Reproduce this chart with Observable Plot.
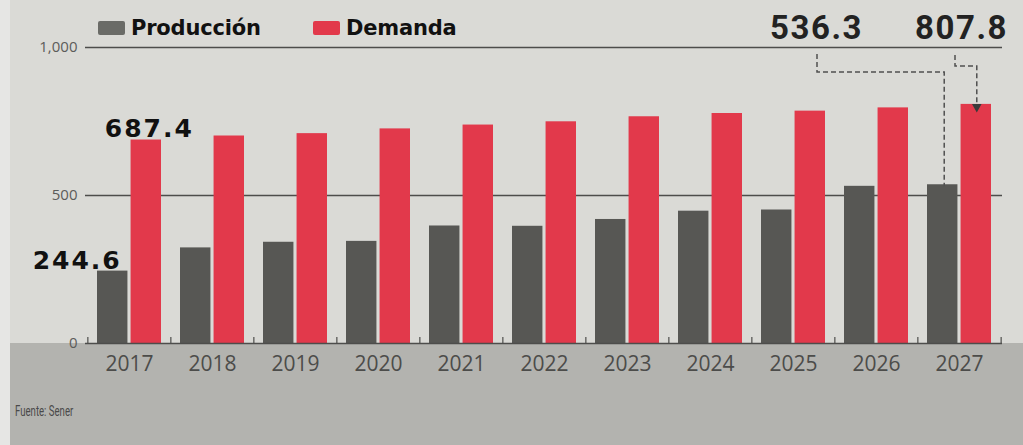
<!DOCTYPE html>
<html>
<head>
<meta charset="utf-8">
<script src="https://cdn.jsdelivr.net/npm/d3@7"></script>
<script src="https://cdn.jsdelivr.net/npm/@observablehq/plot@0.6"></script>
<style>
  html, body { margin: 0; padding: 0; }
  body { width: 1023px; height: 445px; position: relative; overflow: hidden; background: #dadad6; font-family: "Open Sans", sans-serif; }
  #strip { position: absolute; left: 0; top: 0; width: 10px; height: 445px; background: #e6e6e4; }
  #band { position: absolute; left: 10px; top: 343px; width: 1013px; height: 102px; background: #b3b3af; }
  #chart { position: absolute; left: 0; top: 0; }
  #chart svg { overflow: visible; }
  .legend { position: absolute; top: 16px; font-family: "DejaVu Sans", sans-serif; font-weight: 700; font-size: 21px; color: #111; display: flex; align-items: center; letter-spacing: -0.2px; }
  .legend .sw { width: 27px; height: 14px; margin-right: 6px; border-radius: 2px; }
  #fuente { position: absolute; left: 15px; top: 402px; font-family: Roboto, sans-serif; font-size: 15px; color: #4a4a4a; transform: scaleX(0.64); transform-origin: left center; white-space: nowrap; }
  svg [aria-label^="x-axis"] text { font-size: 21px; fill: #4c4c4a; font-family: "Open Sans", sans-serif; }
  svg [aria-label^="y-axis"] text { font-size: 15px; fill: #5c5c5a; font-family: "Open Sans", sans-serif; }
</style>
</head>
<body>
<div id="strip"></div>
<div id="band"></div>
<div id="chart"></div>
<div class="legend" style="left:98px"><span class="sw" style="background:#6a6b67"></span>Producción</div>
<div class="legend" style="left:313px"><span class="sw" style="background:#e2394b"></span>Demanda</div>
<div id="fuente">Fuente: Sener</div>
<script>
// ---- data ----
const years = ["2017","2018","2019","2020","2021","2022","2023","2024","2025","2026","2027"];
const produccion = [244.6, 323, 342, 345, 397, 396, 419, 447, 451, 531, 536.3];
const demanda = [687.4, 701, 709, 725, 738, 749, 766, 777, 785, 796, 807.8];
const series = ["Producción", "Demanda"];
const yTicks = [0, 500, 1000];

const prodRows = years.map((year, i) => ({year, series: series[0], value: produccion[i]}));
const demRows = years.map((year, i) => ({year, series: series[1], value: demanda[i]}));

// ---- layout / styles ----
const W = 1023, H = 445;
const mL = 85, mR = 21, mT = 47, mB = 102;
const padIn = 0.23, padOut = 0.12;
const pre = d3.scaleBand(years, [mL, W - mR]).paddingInner(padIn).paddingOuter(padOut);
const bw = pre.bandwidth(), step = pre.step();
const gap = 1.5;
const half = bw / 2 + gap;
const gray = "#575754", red = "#e2394b", ink = "#4d4d4b";
const smallLabel = {fontSize: 25, fontWeight: 700, fill: "#111", fontFamily: "DejaVu Sans, sans-serif"};
const bigLabel = {fontSize: 33, fontWeight: 700, fill: "#222", fontFamily: "Roboto, sans-serif"};

const plot = Plot.plot({
  width: W, height: H,
  marginLeft: mL, marginRight: mR, marginTop: mT, marginBottom: mB,
  style: {background: "transparent", fontFamily: "Open Sans, sans-serif", overflow: "visible"},
  x: {domain: years, paddingInner: padIn, paddingOuter: padOut, label: null, tickSize: 0, tickPadding: 13},
  y: {domain: [0, 1000], ticks: yTicks, tickFormat: d3.format(","), label: null, tickSize: 0, tickPadding: 8},
  marks: [
    Plot.ruleY(yTicks.filter(d => d > 0), {stroke: ink, strokeWidth: 1.6}),
    Plot.barY(prodRows, {x: "year", y: "value", fill: gray, insetRight: half}),
    Plot.barY(demRows, {x: "year", y: "value", fill: red, insetLeft: half}),
    Plot.ruleY([0], {stroke: ink, strokeWidth: 1.6}),
    Plot.ruleX(years, {x: d => d, dx: -step / 2, insetTop: 290, stroke: ink, strokeWidth: 1.2}),
    Plot.ruleX(years.slice(-1), {x: d => d, dx: step / 2, insetTop: 290, stroke: ink, strokeWidth: 1.2}),
    Plot.text(demRows.filter(d => d.year === years[0]), {
      x: "year", y: "value", text: d => d.value.toFixed(1), dx: half / 2 + 3, dy: -3,
      lineAnchor: "bottom", ...smallLabel
    }),
    Plot.text(prodRows.filter(d => d.year === years[0]), {
      x: "year", y: "value", text: d => d.value.toFixed(1), dx: -half / 2 + 9, dy: -2,
      textAnchor: "end", lineAnchor: "bottom", ...smallLabel
    }),
    Plot.text(prodRows.filter(d => d.year === years[years.length - 1]), {
      x: "year", text: d => d.value.toFixed(1), frameAnchor: "top", lineAnchor: "bottom", dx: -143, dy: -9,
      ...bigLabel
    }),
    Plot.text(demRows.filter(d => d.year === years[years.length - 1]), {
      x: "year", text: d => d.value.toFixed(1), frameAnchor: "top", lineAnchor: "bottom", dx: 2, dy: -9,
      ...bigLabel
    })
  ]
});
document.getElementById("chart").appendChild(plot);

// letter spacing for the value labels
d3.select(plot).selectAll('g[aria-label="text"] text').attr("letter-spacing", function () {
  return /DejaVu/.test(this.parentNode.getAttribute("font-family") || "") ? "2" : "1.5";
});

// ---- dashed leader lines, positioned from the plot's own scales ----
const xs = plot.scale("x"), ysc = plot.scale("y");
const X = d3.scaleBand(xs.domain, xs.range).paddingInner(xs.paddingInner).paddingOuter(xs.paddingOuter).align(xs.align ?? 0.5).round(!!xs.round);
const Y = d3.scaleLinear(ysc.domain, ysc.range);
const lastYear = years[years.length - 1];
const x0 = X(lastYear), bwr = X.bandwidth(), cx = x0 + bwr / 2;
const prodCx = x0 + (bwr - half) / 2;
const demCx = x0 + half + (bwr - half) / 2;
const frameTop = Y(1000);
const g = d3.select(plot).append("g").attr("fill", "none").attr("stroke", "#505050").attr("stroke-width", 1.5).attr("stroke-dasharray", "5,3");
g.append("path").attr("d", d3.line()([[cx - 142, frameTop + 7], [cx - 142, frameTop + 25], [prodCx + 2, frameTop + 25], [prodCx + 2, Y(produccion[produccion.length - 1]) + 2]]));
g.append("path").attr("d", d3.line()([[cx - 4, frameTop + 8], [cx - 4, frameTop + 19], [demCx + 1, frameTop + 19], [demCx + 1, Y(demanda[demanda.length - 1])]]));
d3.select(plot).append("path")
  .attr("d", d3.symbol(d3.symbolTriangle, 40)())
  .attr("transform", `translate(${demCx + 1},${Y(demanda[demanda.length - 1]) + 3}) rotate(180)`)
  .attr("fill", "#3a3a3a");
</script>
</body>
</html>
